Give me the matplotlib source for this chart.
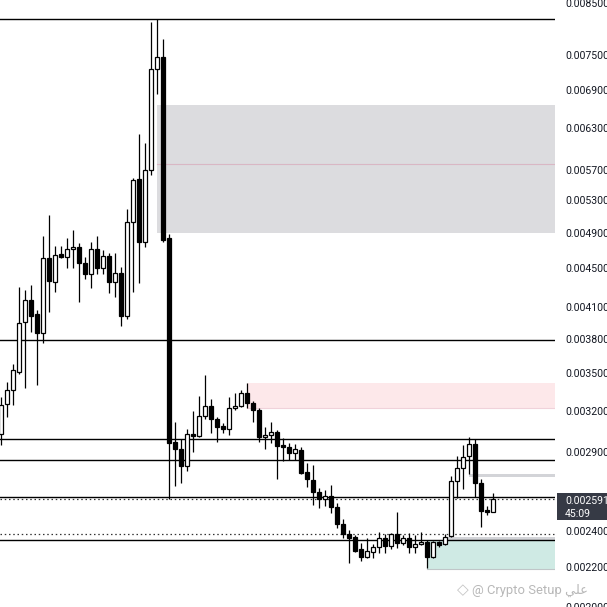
import matplotlib
matplotlib.use("Agg")
import matplotlib.pyplot as plt
from matplotlib.patches import Rectangle
from matplotlib.ticker import NullLocator, FixedLocator, FixedFormatter

# ---- candle data (prices) ----
opens = [0.003027, 0.003253, 0.003363, 0.003512, 0.003958, 0.004173, 0.004035, 0.003856, 0.004614, 0.004356,
         0.004659, 0.004625, 0.004715, 0.004738, 0.004559, 0.004441, 0.004715, 0.004505, 0.004637, 0.004356,
         0.004452, 0.004016, 0.005030, 0.005576, 0.004795, 0.005697, 0.007257, 0.007469, 0.004841, 0.002969,
         0.002920, 0.002804, 0.003027, 0.003012, 0.003160, 0.003237, 0.003138, 0.003085, 0.003063, 0.003222,
         0.003237, 0.003339, 0.003260, 0.003206, 0.003005, 0.003020, 0.003041, 0.002948, 0.002934, 0.002892,
         0.002913, 0.002763, 0.002711, 0.002634, 0.002590, 0.002609, 0.002541, 0.002440, 0.002382, 0.002365,
         0.002298, 0.002254, 0.002282, 0.002309, 0.002359, 0.002315, 0.002382, 0.002331, 0.002359, 0.002309,
         0.002326, 0.002337, 0.002254, 0.002337, 0.002326, 0.002371, 0.002705, 0.002790, 0.002871, 0.002955,
         0.002692, 0.002523, 0.002511]
highs = [0.003308, 0.003428, 0.003580, 0.004305, 0.004274, 0.004325, 0.004074, 0.004864, 0.005115, 0.004749,
         0.004749, 0.004841, 0.004935, 0.004783, 0.004625, 0.004795, 0.004864, 0.004704, 0.004670, 0.004670,
         0.004516, 0.005189, 0.005589, 0.006210, 0.006078, 0.008122, 0.008180, 0.007798, 0.004888, 0.003115,
         0.002991, 0.003063, 0.003198, 0.003315, 0.003486, 0.003292, 0.003153, 0.003108, 0.003308, 0.003339,
         0.003363, 0.003420, 0.003276, 0.003222, 0.003078, 0.003115, 0.003056, 0.002998, 0.002962, 0.002955,
         0.002934, 0.002824, 0.002810, 0.002660, 0.002647, 0.002679, 0.002566, 0.002469, 0.002405, 0.002376,
         0.002331, 0.002359, 0.002326, 0.002393, 0.002382, 0.002388, 0.002511, 0.002376, 0.002388, 0.002376,
         0.002393, 0.002348, 0.002342, 0.002342, 0.002382, 0.002737, 0.002871, 0.002948, 0.003005, 0.002991,
         0.002718, 0.002547, 0.002628]
lows = [0.002948, 0.003153, 0.003245, 0.003495, 0.003380, 0.003865, 0.003404, 0.003764, 0.004054, 0.004253,
        0.004614, 0.004505, 0.004505, 0.004153, 0.004388, 0.004294, 0.004441, 0.004441, 0.004243, 0.004203,
        0.003921, 0.003987, 0.004253, 0.004346, 0.004738, 0.005630, 0.006835, 0.004795, 0.002590, 0.002672,
        0.002692, 0.002770, 0.002899, 0.003005, 0.003138, 0.003034, 0.002969, 0.003034, 0.003020, 0.003206,
        0.003229, 0.003222, 0.003115, 0.002969, 0.002920, 0.002962, 0.002718, 0.002837, 0.002844, 0.002844,
        0.002750, 0.002666, 0.002553, 0.002535, 0.002547, 0.002505, 0.002417, 0.002359, 0.002222, 0.002282,
        0.002233, 0.002249, 0.002249, 0.002276, 0.002276, 0.002298, 0.002303, 0.002320, 0.002276, 0.002276,
        0.002320, 0.002196, 0.002249, 0.002309, 0.002320, 0.002365, 0.002597, 0.002653, 0.002750, 0.002603,
        0.002422, 0.002493, 0.002511]
closes = [0.003245, 0.003363, 0.003528, 0.003949, 0.004173, 0.004016, 0.003856, 0.004614, 0.004367, 0.004648,
          0.004625, 0.004715, 0.004738, 0.004559, 0.004441, 0.004715, 0.004505, 0.004637, 0.004356, 0.004452,
          0.004016, 0.005030, 0.005562, 0.004795, 0.005697, 0.007257, 0.007469, 0.004818, 0.002962, 0.002920,
          0.002804, 0.003027, 0.003012, 0.003160, 0.003237, 0.003138, 0.003078, 0.003063, 0.003222, 0.003237,
          0.003339, 0.003260, 0.003206, 0.003005, 0.003020, 0.003041, 0.002941, 0.002934, 0.002892, 0.002920,
          0.002757, 0.002718, 0.002634, 0.002590, 0.002609, 0.002541, 0.002440, 0.002382, 0.002359, 0.002287,
          0.002254, 0.002287, 0.002309, 0.002359, 0.002315, 0.002382, 0.002331, 0.002359, 0.002309, 0.002326,
          0.002337, 0.002254, 0.002337, 0.002320, 0.002365, 0.002705, 0.002790, 0.002865, 0.002955, 0.002692,
          0.002517, 0.002511, 0.002591]

# ---- axis ----
tick_values = [0.0085, 0.0075, 0.0069, 0.0063, 0.0057, 0.0053, 0.0049, 0.0045, 0.0041,
               0.0038, 0.0035, 0.0032, 0.0029, 0.0024, 0.0022, 0.0020]
tick_labels = ["0.008500", "0.007500", "0.006900", "0.006300", "0.005700", "0.005300", "0.004900",
               "0.004500", "0.004100", "0.003800", "0.003500", "0.003200", "0.002900", "0.002400",
               "0.002200", "0.002000"]
y_range = (0.0020, 0.008561)

# ---- drawings ----
solid_levels = [0.00818, 0.00379, 0.00299, 0.002844, 0.002605, 0.002348]
dotted_levels = [0.002591, 0.00238]
# zones: (start candle, low price, high price, face colour)
zone_starts = [26, 41, 71]
zone_lows = [0.004899, 0.003222, 0.002190]
zone_highs = [0.006657, 0.003420, 0.002346]
zone_colors = ["#dcdcdf", "#fde8ea", "#cfeae4"]
gray_mid_level = 0.005778
thin_band_start = [78, 74]
thin_band_low = [0.002733, 0.002350]
thin_band_high = [0.002752, 0.002366]
last_price_label = "0.002591"
countdown_label = "45:09"
watermark = "@ Crypto Setup \uFEF2\uFEE0\uFECB"

W, H = 607, 607
fig = plt.figure(figsize=(W / 100, H / 100), dpi=100)
fig.patch.set_facecolor("white")
ax = fig.add_axes([0, 0, 555 / W, 1])
ax.set_facecolor("white")
ax.set_yscale("log")
xmax = (555 - 1.3) / 6
ax.set_xlim(-1.3 / 6, xmax)
ax.set_ylim(*y_range)

for s in ax.spines.values():
    s.set_visible(False)
ax.xaxis.set_major_locator(NullLocator())
ax.xaxis.set_minor_locator(NullLocator())
ax.yaxis.set_minor_locator(NullLocator())
ax.yaxis.set_major_locator(FixedLocator(tick_values))
ax.yaxis.set_major_formatter(FixedFormatter(tick_labels))
ax.yaxis.tick_right()
ax.tick_params(axis="y", length=0, pad=7.5, labelsize=7.6, labelcolor="#131722")
for lab in ax.get_yticklabels():
    lab.set_fontfamily("Roboto")
ax.tick_params(axis="x", length=0)

# zones
for st, lo, hi, col in zip(zone_starts, zone_lows, zone_highs, zone_colors):
    ax.add_patch(Rectangle((st, lo), xmax - st, hi - lo, facecolor=col, edgecolor="none", zorder=1))
ax.plot([zone_starts[0], xmax], [gray_mid_level] * 2, color="#d9b7c4", lw=0.8, zorder=1.5)
ax.plot([zone_starts[1], xmax], [zone_lows[1]] * 2, color="#f0d2da", lw=0.8, zorder=1.5)
ax.plot([zone_starts[2], xmax], [zone_lows[2]] * 2, color="#c0c6c8", lw=0.8, zorder=1.5)
for st, lo, hi in zip(thin_band_start, thin_band_low, thin_band_high):
    ax.add_patch(Rectangle((st, lo), xmax - st, hi - lo, facecolor="#d3d4d8", edgecolor="none", zorder=1.6))

# horizontal levels
for lv in solid_levels:
    ax.axhline(lv, color="black", lw=1.0, zorder=2)
for lv in dotted_levels:
    ax.axhline(lv, color="#333333", lw=0.9, ls=(0, (1.2, 2.2)), zorder=2)

# candles
xs = list(range(len(opens)))
for i, o, h, l, c in zip(xs, opens, highs, lows, closes):
    ax.vlines(i, l, h, color="black", lw=0.9, zorder=3)
bw = 0.62
for i, o, c in zip(xs, opens, closes):
    lo, hi = min(o, c), max(o, c)
    face = "white" if c >= o else "black"
    ax.bar(i, hi - lo, bottom=lo, width=bw, color=face, edgecolor="black", linewidth=0.9, zorder=4)

# last price label on axis
fig.patches.append(Rectangle((557 / W, (H - 520) / H), (W - 557) / W, 27 / H,
                             transform=fig.transFigure, facecolor="#363a45", edgecolor="none", zorder=5))
fig.text(565 / W, (H - 501) / H, last_price_label, color="white", fontsize=7.6, family="Roboto",
         va="center", ha="left", zorder=6)
fig.text(565 / W, (H - 514) / H, countdown_label, color="white", fontsize=7.6, family="Roboto",
         va="center", ha="left", zorder=6)

# watermark
fig.text(457 / W, (H - 590) / H, "\u25C7", color="#c4c4c4", fontsize=11,
         family="DejaVu Sans", va="center", ha="left", zorder=6)
fig.text(472 / W, (H - 590) / H, watermark, color="#b8b8b8",
         fontsize=9.4, family=["Roboto", "DejaVu Sans"], va="center", ha="left", zorder=6)

fig.savefig("out.png", dpi=100, facecolor="white")
